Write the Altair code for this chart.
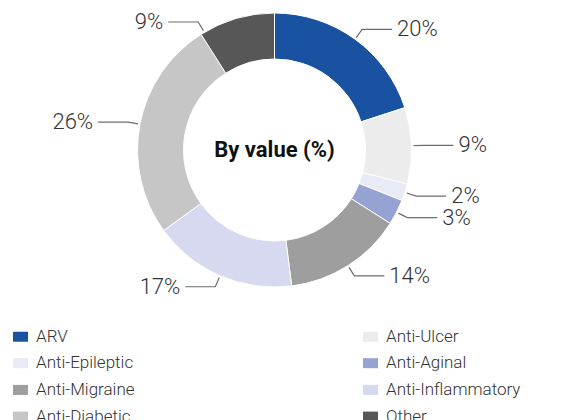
import math
import altair as alt
import pandas as pd

categories = ["ARV", "Anti-Ulcer", "Anti-Epileptic", "Anti-Aginal",
              "Anti-Migraine", "Anti-Inflammatory", "Anti-Diabetic", "Other"]
values = [20, 9, 2, 3, 14, 17, 26, 9]
colors = ["#1852a0", "#ececec", "#e8eaf6", "#95a2d2",
          "#9e9e9e", "#d6d9f0", "#c6c6c6", "#575757"]
center_title = "By value (%)"

W, H = 533, 284
CX, CY = W / 2, H / 2
R_OUT, R_IN = 137, 91
Y_MIN = 19  # keep labels inside the top edge

df = pd.DataFrame({"category": categories, "value": values,
                   "order": list(range(len(categories)))})

# leader line and label geometry derived from slice angles
total = sum(values)
rows_line, rows_text = [], []
cum = 0
c_lim = (CY - Y_MIN) / (R_OUT + 12)
for c, v in zip(categories, values):
    s_ang = cum / total * 2 * math.pi
    e_ang = (cum + v) / total * 2 * math.pi
    cum += v
    a = (s_ang + e_ang) / 2
    if math.cos(a) > c_lim:
        lim = math.acos(c_lim)
        pad = 0.05 * (e_ang - s_ang)
        if a < math.pi:
            a = min(lim, e_ang - pad)
        else:
            a = max(2 * math.pi - lim, s_ang + pad)
    s, co = math.sin(a), math.cos(a)
    side = 1 if s >= 0 else -1
    p0 = (CX + (R_OUT + 2) * s, CY - (R_OUT + 2) * co)
    p1 = (CX + (R_OUT + 12) * s, CY - (R_OUT + 12) * co)
    p2 = (p1[0] + side * 30, p1[1])
    for k, p in enumerate([p0, p1, p2]):
        rows_line.append({"category": c, "k": k, "x": p[0], "y": p[1]})
    rows_text.append({"category": c, "label": f"{v}%", "x": p2[0] + side * 5,
                      "y": p2[1], "side": "left" if side > 0 else "right"})
lines_df = pd.DataFrame(rows_line)
text_df = pd.DataFrame(rows_text)

xs = alt.Scale(domain=[0, W], range=[0, W])
ys = alt.Scale(domain=[0, H], range=[0, H])

sym = "M-1,-0.667H1V0.667H-1Z"

arcs = alt.Chart(df).mark_arc(outerRadius=R_OUT, innerRadius=R_IN,
                              stroke="white", strokeWidth=1).encode(
    theta=alt.Theta("value:Q", stack=True),
    order=alt.Order("order:Q"),
    color=alt.Color("category:N",
                    scale=alt.Scale(domain=categories, range=colors),
                    legend=alt.Legend(
                        title=None, orient="none", legendX=4, legendY=320,
                        direction="horizontal", columns=2, columnPadding=227,
                        rowPadding=8.7,
                        symbolType=sym, symbolSize=225, symbolStrokeWidth=0,
                        labelFont="Roboto", labelFontSize=17,
                        labelFontWeight=300, labelColor="#333333",
                        labelOffset=7, padding=0, labelLimit=300)),
)

leaders = alt.Chart(lines_df).mark_line(color="#6e6e6e", strokeWidth=1.2).encode(
    x=alt.X("x:Q", scale=xs, axis=None),
    y=alt.Y("y:Q", scale=ys, axis=None),
    detail="category:N",
    order="k:Q",
)

lab_left = alt.Chart(text_df[text_df.side == "left"]).mark_text(
    align="left", baseline="middle", font="Roboto", fontSize=22,
    fontWeight=300, color="#333333").encode(
    x=alt.X("x:Q", scale=xs, axis=None),
    y=alt.Y("y:Q", scale=ys, axis=None),
    text="label:N")
lab_right = alt.Chart(text_df[text_df.side == "right"]).mark_text(
    align="right", baseline="middle", font="Roboto", fontSize=22,
    fontWeight=300, color="#333333").encode(
    x=alt.X("x:Q", scale=xs, axis=None),
    y=alt.Y("y:Q", scale=ys, axis=None),
    text="label:N")

center = alt.Chart(pd.DataFrame({"t": [center_title]})).mark_text(
    font="Roboto", fontSize=22, fontWeight="bold", color="#111111",
    baseline="middle").encode(text="t:N")

chart = alt.layer(arcs, leaders, lab_left, lab_right, center).properties(
    width=W, height=H, padding=0
).configure_view(stroke=None)

chart.save("out.html", embed_options={"renderer": "svg", "actions": False})
